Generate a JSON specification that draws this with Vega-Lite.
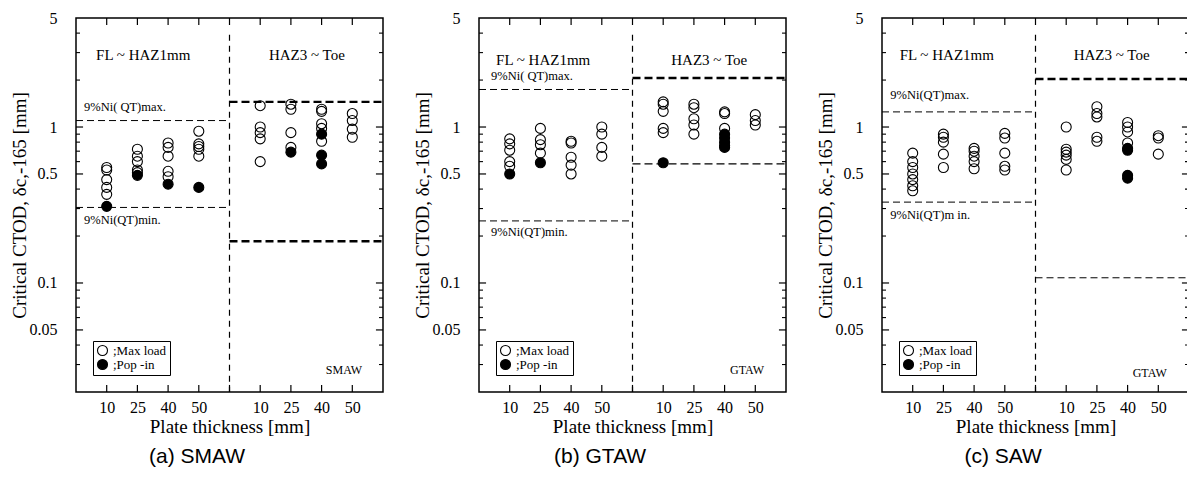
{
"$schema": "https://vega.github.io/schema/vega-lite/v6.json",
"padding": {"left": 9, "top": 9, "right": 0, "bottom": 0},
"spacing": 27,
"datasets": {
"ctod": [
{"process":"SMAW","zone":"FL~HAZ1mm","thickness":10,"mode":"Max load","ctod":0.55},
{"process":"SMAW","zone":"FL~HAZ1mm","thickness":10,"mode":"Max load","ctod":0.53},
{"process":"SMAW","zone":"FL~HAZ1mm","thickness":10,"mode":"Max load","ctod":0.46},
{"process":"SMAW","zone":"FL~HAZ1mm","thickness":10,"mode":"Max load","ctod":0.41},
{"process":"SMAW","zone":"FL~HAZ1mm","thickness":10,"mode":"Max load","ctod":0.37},
{"process":"SMAW","zone":"FL~HAZ1mm","thickness":10,"mode":"Pop-in","ctod":0.31},
{"process":"SMAW","zone":"FL~HAZ1mm","thickness":25,"mode":"Max load","ctod":0.72},
{"process":"SMAW","zone":"FL~HAZ1mm","thickness":25,"mode":"Max load","ctod":0.65},
{"process":"SMAW","zone":"FL~HAZ1mm","thickness":25,"mode":"Max load","ctod":0.6},
{"process":"SMAW","zone":"FL~HAZ1mm","thickness":25,"mode":"Max load","ctod":0.53},
{"process":"SMAW","zone":"FL~HAZ1mm","thickness":25,"mode":"Max load","ctod":0.51},
{"process":"SMAW","zone":"FL~HAZ1mm","thickness":25,"mode":"Pop-in","ctod":0.49},
{"process":"SMAW","zone":"FL~HAZ1mm","thickness":40,"mode":"Max load","ctod":0.79},
{"process":"SMAW","zone":"FL~HAZ1mm","thickness":40,"mode":"Max load","ctod":0.74},
{"process":"SMAW","zone":"FL~HAZ1mm","thickness":40,"mode":"Max load","ctod":0.65},
{"process":"SMAW","zone":"FL~HAZ1mm","thickness":40,"mode":"Max load","ctod":0.52},
{"process":"SMAW","zone":"FL~HAZ1mm","thickness":40,"mode":"Max load","ctod":0.48},
{"process":"SMAW","zone":"FL~HAZ1mm","thickness":40,"mode":"Pop-in","ctod":0.43},
{"process":"SMAW","zone":"FL~HAZ1mm","thickness":50,"mode":"Max load","ctod":0.94},
{"process":"SMAW","zone":"FL~HAZ1mm","thickness":50,"mode":"Max load","ctod":0.78},
{"process":"SMAW","zone":"FL~HAZ1mm","thickness":50,"mode":"Max load","ctod":0.75},
{"process":"SMAW","zone":"FL~HAZ1mm","thickness":50,"mode":"Max load","ctod":0.72},
{"process":"SMAW","zone":"FL~HAZ1mm","thickness":50,"mode":"Max load","ctod":0.65},
{"process":"SMAW","zone":"FL~HAZ1mm","thickness":50,"mode":"Pop-in","ctod":0.41},
{"process":"SMAW","zone":"HAZ3~Toe","thickness":10,"mode":"Max load","ctod":1.37},
{"process":"SMAW","zone":"HAZ3~Toe","thickness":10,"mode":"Max load","ctod":1.0},
{"process":"SMAW","zone":"HAZ3~Toe","thickness":10,"mode":"Max load","ctod":0.92},
{"process":"SMAW","zone":"HAZ3~Toe","thickness":10,"mode":"Max load","ctod":0.84},
{"process":"SMAW","zone":"HAZ3~Toe","thickness":10,"mode":"Max load","ctod":0.6},
{"process":"SMAW","zone":"HAZ3~Toe","thickness":25,"mode":"Max load","ctod":1.4},
{"process":"SMAW","zone":"HAZ3~Toe","thickness":25,"mode":"Max load","ctod":1.3},
{"process":"SMAW","zone":"HAZ3~Toe","thickness":25,"mode":"Max load","ctod":0.92},
{"process":"SMAW","zone":"HAZ3~Toe","thickness":25,"mode":"Max load","ctod":0.74},
{"process":"SMAW","zone":"HAZ3~Toe","thickness":25,"mode":"Pop-in","ctod":0.69},
{"process":"SMAW","zone":"HAZ3~Toe","thickness":40,"mode":"Max load","ctod":1.3},
{"process":"SMAW","zone":"HAZ3~Toe","thickness":40,"mode":"Max load","ctod":1.26},
{"process":"SMAW","zone":"HAZ3~Toe","thickness":40,"mode":"Max load","ctod":1.05},
{"process":"SMAW","zone":"HAZ3~Toe","thickness":40,"mode":"Max load","ctod":0.98},
{"process":"SMAW","zone":"HAZ3~Toe","thickness":40,"mode":"Max load","ctod":0.81},
{"process":"SMAW","zone":"HAZ3~Toe","thickness":40,"mode":"Pop-in","ctod":0.9},
{"process":"SMAW","zone":"HAZ3~Toe","thickness":40,"mode":"Pop-in","ctod":0.66},
{"process":"SMAW","zone":"HAZ3~Toe","thickness":40,"mode":"Pop-in","ctod":0.58},
{"process":"SMAW","zone":"HAZ3~Toe","thickness":50,"mode":"Max load","ctod":1.22},
{"process":"SMAW","zone":"HAZ3~Toe","thickness":50,"mode":"Max load","ctod":1.1},
{"process":"SMAW","zone":"HAZ3~Toe","thickness":50,"mode":"Max load","ctod":0.97},
{"process":"SMAW","zone":"HAZ3~Toe","thickness":50,"mode":"Max load","ctod":0.86},
{"process":"GTAW","zone":"FL~HAZ1mm","thickness":10,"mode":"Max load","ctod":0.84},
{"process":"GTAW","zone":"FL~HAZ1mm","thickness":10,"mode":"Max load","ctod":0.78},
{"process":"GTAW","zone":"FL~HAZ1mm","thickness":10,"mode":"Max load","ctod":0.71},
{"process":"GTAW","zone":"FL~HAZ1mm","thickness":10,"mode":"Max load","ctod":0.6},
{"process":"GTAW","zone":"FL~HAZ1mm","thickness":10,"mode":"Max load","ctod":0.56},
{"process":"GTAW","zone":"FL~HAZ1mm","thickness":10,"mode":"Pop-in","ctod":0.5},
{"process":"GTAW","zone":"FL~HAZ1mm","thickness":25,"mode":"Max load","ctod":0.98},
{"process":"GTAW","zone":"FL~HAZ1mm","thickness":25,"mode":"Max load","ctod":0.83},
{"process":"GTAW","zone":"FL~HAZ1mm","thickness":25,"mode":"Max load","ctod":0.77},
{"process":"GTAW","zone":"FL~HAZ1mm","thickness":25,"mode":"Max load","ctod":0.68},
{"process":"GTAW","zone":"FL~HAZ1mm","thickness":25,"mode":"Pop-in","ctod":0.59},
{"process":"GTAW","zone":"FL~HAZ1mm","thickness":40,"mode":"Max load","ctod":0.81},
{"process":"GTAW","zone":"FL~HAZ1mm","thickness":40,"mode":"Max load","ctod":0.79},
{"process":"GTAW","zone":"FL~HAZ1mm","thickness":40,"mode":"Max load","ctod":0.64},
{"process":"GTAW","zone":"FL~HAZ1mm","thickness":40,"mode":"Max load","ctod":0.57},
{"process":"GTAW","zone":"FL~HAZ1mm","thickness":40,"mode":"Max load","ctod":0.5},
{"process":"GTAW","zone":"FL~HAZ1mm","thickness":50,"mode":"Max load","ctod":1.0},
{"process":"GTAW","zone":"FL~HAZ1mm","thickness":50,"mode":"Max load","ctod":0.9},
{"process":"GTAW","zone":"FL~HAZ1mm","thickness":50,"mode":"Max load","ctod":0.74},
{"process":"GTAW","zone":"FL~HAZ1mm","thickness":50,"mode":"Max load","ctod":0.65},
{"process":"GTAW","zone":"HAZ3~Toe","thickness":10,"mode":"Max load","ctod":1.45},
{"process":"GTAW","zone":"HAZ3~Toe","thickness":10,"mode":"Max load","ctod":1.4},
{"process":"GTAW","zone":"HAZ3~Toe","thickness":10,"mode":"Max load","ctod":1.26},
{"process":"GTAW","zone":"HAZ3~Toe","thickness":10,"mode":"Max load","ctod":0.98},
{"process":"GTAW","zone":"HAZ3~Toe","thickness":10,"mode":"Max load","ctod":0.92},
{"process":"GTAW","zone":"HAZ3~Toe","thickness":10,"mode":"Pop-in","ctod":0.59},
{"process":"GTAW","zone":"HAZ3~Toe","thickness":25,"mode":"Max load","ctod":1.4},
{"process":"GTAW","zone":"HAZ3~Toe","thickness":25,"mode":"Max load","ctod":1.33},
{"process":"GTAW","zone":"HAZ3~Toe","thickness":25,"mode":"Max load","ctod":1.13},
{"process":"GTAW","zone":"HAZ3~Toe","thickness":25,"mode":"Max load","ctod":1.03},
{"process":"GTAW","zone":"HAZ3~Toe","thickness":25,"mode":"Max load","ctod":0.9},
{"process":"GTAW","zone":"HAZ3~Toe","thickness":40,"mode":"Max load","ctod":1.25},
{"process":"GTAW","zone":"HAZ3~Toe","thickness":40,"mode":"Max load","ctod":1.22},
{"process":"GTAW","zone":"HAZ3~Toe","thickness":40,"mode":"Max load","ctod":0.98},
{"process":"GTAW","zone":"HAZ3~Toe","thickness":40,"mode":"Pop-in","ctod":0.9},
{"process":"GTAW","zone":"HAZ3~Toe","thickness":40,"mode":"Pop-in","ctod":0.85},
{"process":"GTAW","zone":"HAZ3~Toe","thickness":40,"mode":"Pop-in","ctod":0.8},
{"process":"GTAW","zone":"HAZ3~Toe","thickness":40,"mode":"Pop-in","ctod":0.76},
{"process":"GTAW","zone":"HAZ3~Toe","thickness":40,"mode":"Pop-in","ctod":0.74},
{"process":"GTAW","zone":"HAZ3~Toe","thickness":50,"mode":"Max load","ctod":1.2},
{"process":"GTAW","zone":"HAZ3~Toe","thickness":50,"mode":"Max load","ctod":1.1},
{"process":"GTAW","zone":"HAZ3~Toe","thickness":50,"mode":"Max load","ctod":1.03},
{"process":"SAW","zone":"FL~HAZ1mm","thickness":10,"mode":"Max load","ctod":0.68},
{"process":"SAW","zone":"FL~HAZ1mm","thickness":10,"mode":"Max load","ctod":0.6},
{"process":"SAW","zone":"FL~HAZ1mm","thickness":10,"mode":"Max load","ctod":0.55},
{"process":"SAW","zone":"FL~HAZ1mm","thickness":10,"mode":"Max load","ctod":0.5},
{"process":"SAW","zone":"FL~HAZ1mm","thickness":10,"mode":"Max load","ctod":0.46},
{"process":"SAW","zone":"FL~HAZ1mm","thickness":10,"mode":"Max load","ctod":0.42},
{"process":"SAW","zone":"FL~HAZ1mm","thickness":10,"mode":"Max load","ctod":0.39},
{"process":"SAW","zone":"FL~HAZ1mm","thickness":25,"mode":"Max load","ctod":0.9},
{"process":"SAW","zone":"FL~HAZ1mm","thickness":25,"mode":"Max load","ctod":0.86},
{"process":"SAW","zone":"FL~HAZ1mm","thickness":25,"mode":"Max load","ctod":0.8},
{"process":"SAW","zone":"FL~HAZ1mm","thickness":25,"mode":"Max load","ctod":0.67},
{"process":"SAW","zone":"FL~HAZ1mm","thickness":25,"mode":"Max load","ctod":0.55},
{"process":"SAW","zone":"FL~HAZ1mm","thickness":40,"mode":"Max load","ctod":0.73},
{"process":"SAW","zone":"FL~HAZ1mm","thickness":40,"mode":"Max load","ctod":0.7},
{"process":"SAW","zone":"FL~HAZ1mm","thickness":40,"mode":"Max load","ctod":0.65},
{"process":"SAW","zone":"FL~HAZ1mm","thickness":40,"mode":"Max load","ctod":0.6},
{"process":"SAW","zone":"FL~HAZ1mm","thickness":40,"mode":"Max load","ctod":0.54},
{"process":"SAW","zone":"FL~HAZ1mm","thickness":50,"mode":"Max load","ctod":0.91},
{"process":"SAW","zone":"FL~HAZ1mm","thickness":50,"mode":"Max load","ctod":0.85},
{"process":"SAW","zone":"FL~HAZ1mm","thickness":50,"mode":"Max load","ctod":0.68},
{"process":"SAW","zone":"FL~HAZ1mm","thickness":50,"mode":"Max load","ctod":0.56},
{"process":"SAW","zone":"FL~HAZ1mm","thickness":50,"mode":"Max load","ctod":0.53},
{"process":"SAW","zone":"HAZ3~Toe","thickness":10,"mode":"Max load","ctod":1.0},
{"process":"SAW","zone":"HAZ3~Toe","thickness":10,"mode":"Max load","ctod":0.72},
{"process":"SAW","zone":"HAZ3~Toe","thickness":10,"mode":"Max load","ctod":0.69},
{"process":"SAW","zone":"HAZ3~Toe","thickness":10,"mode":"Max load","ctod":0.66},
{"process":"SAW","zone":"HAZ3~Toe","thickness":10,"mode":"Max load","ctod":0.62},
{"process":"SAW","zone":"HAZ3~Toe","thickness":10,"mode":"Max load","ctod":0.53},
{"process":"SAW","zone":"HAZ3~Toe","thickness":25,"mode":"Max load","ctod":1.35},
{"process":"SAW","zone":"HAZ3~Toe","thickness":25,"mode":"Max load","ctod":1.22},
{"process":"SAW","zone":"HAZ3~Toe","thickness":25,"mode":"Max load","ctod":1.16},
{"process":"SAW","zone":"HAZ3~Toe","thickness":25,"mode":"Max load","ctod":0.86},
{"process":"SAW","zone":"HAZ3~Toe","thickness":25,"mode":"Max load","ctod":0.81},
{"process":"SAW","zone":"HAZ3~Toe","thickness":40,"mode":"Max load","ctod":1.07},
{"process":"SAW","zone":"HAZ3~Toe","thickness":40,"mode":"Max load","ctod":1.0},
{"process":"SAW","zone":"HAZ3~Toe","thickness":40,"mode":"Max load","ctod":0.93},
{"process":"SAW","zone":"HAZ3~Toe","thickness":40,"mode":"Max load","ctod":0.79},
{"process":"SAW","zone":"HAZ3~Toe","thickness":40,"mode":"Pop-in","ctod":0.73},
{"process":"SAW","zone":"HAZ3~Toe","thickness":40,"mode":"Pop-in","ctod":0.71},
{"process":"SAW","zone":"HAZ3~Toe","thickness":40,"mode":"Pop-in","ctod":0.49},
{"process":"SAW","zone":"HAZ3~Toe","thickness":40,"mode":"Pop-in","ctod":0.47},
{"process":"SAW","zone":"HAZ3~Toe","thickness":50,"mode":"Max load","ctod":0.88},
{"process":"SAW","zone":"HAZ3~Toe","thickness":50,"mode":"Max load","ctod":0.85},
{"process":"SAW","zone":"HAZ3~Toe","thickness":50,"mode":"Max load","ctod":0.67}
],
"refs": [
{"process":"SMAW","zone":"FL~HAZ1mm","bound":"upper","ctod":1.1},
{"process":"SMAW","zone":"FL~HAZ1mm","bound":"lower","ctod":0.305},
{"process":"SMAW","zone":"HAZ3~Toe","bound":"upper","ctod":1.45},
{"process":"SMAW","zone":"HAZ3~Toe","bound":"lower","ctod":0.185},
{"process":"GTAW","zone":"FL~HAZ1mm","bound":"upper","ctod":1.74},
{"process":"GTAW","zone":"FL~HAZ1mm","bound":"lower","ctod":0.25},
{"process":"GTAW","zone":"HAZ3~Toe","bound":"upper","ctod":2.06},
{"process":"GTAW","zone":"HAZ3~Toe","bound":"lower","ctod":0.58},
{"process":"SAW","zone":"FL~HAZ1mm","bound":"upper","ctod":1.25},
{"process":"SAW","zone":"FL~HAZ1mm","bound":"lower","ctod":0.33},
{"process":"SAW","zone":"HAZ3~Toe","bound":"upper","ctod":2.03},
{"process":"SAW","zone":"HAZ3~Toe","bound":"lower","ctod":0.108}
],
"yticks": [
{"value":0.05,"kind":"major"},{"value":0.1,"kind":"major"},{"value":0.5,"kind":"major"},{"value":1,"kind":"major"},
{"value":0.03,"kind":"minor"},{"value":0.04,"kind":"minor"},{"value":0.06,"kind":"minor"},{"value":0.07,"kind":"minor"},{"value":0.08,"kind":"minor"},{"value":0.09,"kind":"minor"},
{"value":0.2,"kind":"minor"},{"value":0.3,"kind":"minor"},{"value":0.4,"kind":"minor"},{"value":0.6,"kind":"minor"},{"value":0.7,"kind":"minor"},{"value":0.8,"kind":"minor"},{"value":0.9,"kind":"minor"},
{"value":2,"kind":"minor"},{"value":3,"kind":"minor"},{"value":4,"kind":"minor"}
],
"xticks": [{"slot":1},{"slot":2},{"slot":3},{"slot":4},{"slot":5},{"slot":6},{"slot":7},{"slot":8},{"slot":9}]
},
"resolve": {"scale": {"fill": "independent"}, "legend": {"fill": "independent"}},
"hconcat": [
{
"width": 307, "height": 374,
"title": {"text": "(a) SMAW", "orient": "bottom", "font": "Liberation Sans", "fontSize": 21, "fontWeight": "normal", "color": "black", "frame": "bounds", "anchor": "middle", "offset": 10},
"resolve": {"scale": {"x": "independent"}, "axis": {"x": "independent", "y": "independent"}},
"layer": [
{"data": {"name": "ctod"}, "transform": [{"filter": "datum.process == 'SMAW'"}],
 "mark": {"type": "point", "shape": "circle", "filled": true, "size": 100, "stroke": "black", "strokeWidth": 1.1, "opacity": 1},
 "encoding": {
  "x": {"field": "zone", "type": "nominal", "scale": {"type": "band", "domain": ["FL~HAZ1mm", "HAZ3~Toe"], "paddingInner": 0, "paddingOuter": 0}, "axis": null},
  "xOffset": {"field": "thickness", "type": "ordinal", "scale": {"type": "point", "domain": [10, 25, 40, 50], "padding": 1}},
  "y": {"field": "ctod", "type": "quantitative", "scale": {"type": "log", "domain": [0.02, 5], "nice": false},
        "axis": {"orient": "left", "values": [0.05, 0.1, 0.5, 1, 5], "labelExpr": "format(datum.value, '~g')", "ticks": false, "domain": false, "labelPadding": 19, "labelOverlap": false, "labelFlush": false, "title": "Critical CTOD, δc,-165 [mm]", "titlePadding": 0}},
  "fill": {"field": "mode", "type": "nominal", "scale": {"domain": ["Max load", "Pop-in"], "range": ["transparent", "black"]},
           "legend": {"title": null, "labelExpr": "datum.label == 'Max load' ? ';Max load' : ';Pop -in'"}}
 }},
{"data": {"name": "refs"}, "transform": [{"filter": "datum.process == 'SMAW' && datum.zone == 'FL~HAZ1mm'"}],
 "mark": {"type": "rule", "strokeDash": [7, 4], "strokeWidth": 1, "color": "black"},
 "encoding": {
  "x": {"datum": 0, "type": "quantitative", "scale": {"domain": [0, 10], "nice": false, "zero": false},
        "axis": {"orient": "bottom", "values": [1, 2, 3, 4, 6, 7, 8, 9], "labelExpr": "['','10','25','40','50','','10','25','40','50'][datum.value]", "ticks": false, "domain": false, "labelPadding": 7, "labelFlush": false, "labelOverlap": false, "title": "Plate thickness [mm]", "titlePadding": 2}},
  "x2": {"datum": 5},
  "y": {"field": "ctod", "type": "quantitative", "scale": {"type": "log", "domain": [0.02, 5], "nice": false}, "axis": null}
 }},
{"data": {"name": "refs"}, "transform": [{"filter": "datum.process == 'SMAW' && datum.zone == 'HAZ3~Toe'"}],
 "mark": {"type": "rule", "strokeDash": [8, 4], "strokeWidth": 2.4, "color": "black"},
 "encoding": {
  "x": {"datum": 5, "type": "quantitative", "scale": {"domain": [0, 10], "nice": false, "zero": false}, "axis": null},
  "x2": {"datum": 10},
  "y": {"field": "ctod", "type": "quantitative", "scale": {"type": "log", "domain": [0.02, 5], "nice": false}, "axis": null}
 }},
{"data": {"values": [{}]},
 "mark": {"type": "rule", "strokeDash": [6, 5], "strokeWidth": 1.2, "color": "black"},
 "encoding": {
  "x": {"datum": 5, "type": "quantitative", "scale": {"domain": [0, 10], "nice": false, "zero": false}, "axis": null},
  "y": {"datum": 3.9, "type": "quantitative", "scale": {"type": "log", "domain": [0.02, 5], "nice": false}, "axis": null},
  "y2": {"datum": 0.02}
 }},
{"data": {"name": "yticks"}, "transform": [{"filter": "datum.kind == 'major'"}],
 "mark": {"type": "rule", "strokeWidth": 1.2, "color": "black"},
 "encoding": {"x": {"datum": 0, "type": "quantitative", "scale": {"domain": [0, 10], "nice": false, "zero": false}, "axis": null}, "x2": {"datum": 0.23},
              "y": {"field": "value", "type": "quantitative", "scale": {"type": "log", "domain": [0.02, 5], "nice": false}, "axis": null}}},
{"data": {"name": "yticks"}, "transform": [{"filter": "datum.kind == 'major'"}],
 "mark": {"type": "rule", "strokeWidth": 1.2, "color": "black"},
 "encoding": {"x": {"datum": 9.77, "type": "quantitative", "scale": {"domain": [0, 10], "nice": false, "zero": false}, "axis": null}, "x2": {"datum": 10},
              "y": {"field": "value", "type": "quantitative", "scale": {"type": "log", "domain": [0.02, 5], "nice": false}, "axis": null}}},
{"data": {"name": "yticks"}, "transform": [{"filter": "datum.kind == 'minor'"}],
 "mark": {"type": "rule", "strokeWidth": 1.1, "color": "black"},
 "encoding": {"x": {"datum": 0, "type": "quantitative", "scale": {"domain": [0, 10], "nice": false, "zero": false}, "axis": null}, "x2": {"datum": 0.13},
              "y": {"field": "value", "type": "quantitative", "scale": {"type": "log", "domain": [0.02, 5], "nice": false}, "axis": null}}},
{"data": {"name": "yticks"}, "transform": [{"filter": "datum.kind == 'minor'"}],
 "mark": {"type": "rule", "strokeWidth": 1.1, "color": "black"},
 "encoding": {"x": {"datum": 9.87, "type": "quantitative", "scale": {"domain": [0, 10], "nice": false, "zero": false}, "axis": null}, "x2": {"datum": 10},
              "y": {"field": "value", "type": "quantitative", "scale": {"type": "log", "domain": [0.02, 5], "nice": false}, "axis": null}}},
{"data": {"name": "xticks"},
 "mark": {"type": "rule", "strokeWidth": 1.2, "color": "black"},
 "encoding": {"x": {"field": "slot", "type": "quantitative", "scale": {"domain": [0, 10], "nice": false, "zero": false}, "axis": null},
              "y": {"datum": 0.02, "type": "quantitative", "scale": {"type": "log", "domain": [0.02, 5], "nice": false}, "axis": null}, "y2": {"datum": 0.0222}}},
{"data": {"name": "xticks"},
 "mark": {"type": "rule", "strokeWidth": 1.2, "color": "black"},
 "encoding": {"x": {"field": "slot", "type": "quantitative", "scale": {"domain": [0, 10], "nice": false, "zero": false}, "axis": null},
              "y": {"datum": 4.51, "type": "quantitative", "scale": {"type": "log", "domain": [0.02, 5], "nice": false}, "axis": null}, "y2": {"datum": 5}}},
{"data": {"values": [{}]}, "mark": {"type": "text", "text": "FL ~ HAZ1mm", "font": "Liberation Serif", "fontSize": 15, "align": "center", "baseline": "middle", "color": "black"},
 "encoding": {"x": {"datum": 2.19, "type": "quantitative", "scale": {"domain": [0, 10], "nice": false, "zero": false}, "axis": null},
              "y": {"datum": 2.9, "type": "quantitative", "scale": {"type": "log", "domain": [0.02, 5], "nice": false}, "axis": null}}},
{"data": {"values": [{}]}, "mark": {"type": "text", "text": "HAZ3 ~ Toe", "font": "Liberation Serif", "fontSize": 15, "align": "center", "baseline": "middle", "color": "black"},
 "encoding": {"x": {"datum": 7.52, "type": "quantitative", "scale": {"domain": [0, 10], "nice": false, "zero": false}, "axis": null},
              "y": {"datum": 2.9, "type": "quantitative", "scale": {"type": "log", "domain": [0.02, 5], "nice": false}, "axis": null}}},
{"data": {"values": [{}]}, "mark": {"type": "text", "text": "9%Ni( QT)max.", "font": "Liberation Serif", "fontSize": 12.5, "align": "left", "baseline": "middle", "color": "black"},
 "encoding": {"x": {"datum": 0.26, "type": "quantitative", "scale": {"domain": [0, 10], "nice": false, "zero": false}, "axis": null},
              "y": {"datum": 1.35, "type": "quantitative", "scale": {"type": "log", "domain": [0.02, 5], "nice": false}, "axis": null}}},
{"data": {"values": [{}]}, "mark": {"type": "text", "text": "9%Ni(QT)min.", "font": "Liberation Serif", "fontSize": 12.5, "align": "left", "baseline": "middle", "color": "black"},
 "encoding": {"x": {"datum": 0.26, "type": "quantitative", "scale": {"domain": [0, 10], "nice": false, "zero": false}, "axis": null},
              "y": {"datum": 0.254, "type": "quantitative", "scale": {"type": "log", "domain": [0.02, 5], "nice": false}, "axis": null}}},
{"data": {"values": [{}]}, "mark": {"type": "text", "text": "SMAW", "font": "Liberation Serif", "fontSize": 12, "align": "center", "baseline": "middle", "color": "black"},
 "encoding": {"x": {"datum": 8.73, "type": "quantitative", "scale": {"domain": [0, 10], "nice": false, "zero": false}, "axis": null},
              "y": {"datum": 0.0276, "type": "quantitative", "scale": {"type": "log", "domain": [0.02, 5], "nice": false}, "axis": null}}}
]
},
{
"width": 307, "height": 374,
"title": {"text": "(b) GTAW", "orient": "bottom", "font": "Liberation Sans", "fontSize": 21, "fontWeight": "normal", "color": "black", "frame": "bounds", "anchor": "middle", "offset": 10},
"resolve": {"scale": {"x": "independent"}, "axis": {"x": "independent", "y": "independent"}},
"layer": [
{"data": {"name": "ctod"}, "transform": [{"filter": "datum.process == 'GTAW'"}],
 "mark": {"type": "point", "shape": "circle", "filled": true, "size": 100, "stroke": "black", "strokeWidth": 1.1, "opacity": 1},
 "encoding": {
  "x": {"field": "zone", "type": "nominal", "scale": {"type": "band", "domain": ["FL~HAZ1mm", "HAZ3~Toe"], "paddingInner": 0, "paddingOuter": 0}, "axis": null},
  "xOffset": {"field": "thickness", "type": "ordinal", "scale": {"type": "point", "domain": [10, 25, 40, 50], "padding": 1}},
  "y": {"field": "ctod", "type": "quantitative", "scale": {"type": "log", "domain": [0.02, 5], "nice": false},
        "axis": {"orient": "left", "values": [0.05, 0.1, 0.5, 1, 5], "labelExpr": "format(datum.value, '~g')", "ticks": false, "domain": false, "labelPadding": 19, "labelOverlap": false, "labelFlush": false, "title": "Critical CTOD, δc,-165 [mm]", "titlePadding": 0}},
  "fill": {"field": "mode", "type": "nominal", "scale": {"domain": ["Max load", "Pop-in"], "range": ["transparent", "black"]},
           "legend": {"title": null, "labelExpr": "datum.label == 'Max load' ? ';Max load' : ';Pop -in'"}}
 }},
{"data": {"name": "refs"}, "transform": [{"filter": "datum.process == 'GTAW' && datum.zone == 'FL~HAZ1mm'"}],
 "mark": {"type": "rule", "strokeDash": [7, 4], "strokeWidth": 1, "color": "black"},
 "encoding": {
  "x": {"datum": 0, "type": "quantitative", "scale": {"domain": [0, 10], "nice": false, "zero": false},
        "axis": {"orient": "bottom", "values": [1, 2, 3, 4, 6, 7, 8, 9], "labelExpr": "['','10','25','40','50','','10','25','40','50'][datum.value]", "ticks": false, "domain": false, "labelPadding": 7, "labelFlush": false, "labelOverlap": false, "title": "Plate thickness [mm]", "titlePadding": 2}},
  "x2": {"datum": 5},
  "y": {"field": "ctod", "type": "quantitative", "scale": {"type": "log", "domain": [0.02, 5], "nice": false}, "axis": null}
 }},
{"data": {"name": "refs"}, "transform": [{"filter": "datum.process == 'GTAW' && datum.zone == 'HAZ3~Toe' && datum.bound == 'upper'"}],
 "mark": {"type": "rule", "strokeDash": [8, 4], "strokeWidth": 2.4, "color": "black"},
 "encoding": {
  "x": {"datum": 5, "type": "quantitative", "scale": {"domain": [0, 10], "nice": false, "zero": false}, "axis": null},
  "x2": {"datum": 10},
  "y": {"field": "ctod", "type": "quantitative", "scale": {"type": "log", "domain": [0.02, 5], "nice": false}, "axis": null}
 }},
{"data": {"name": "refs"}, "transform": [{"filter": "datum.process == 'GTAW' && datum.zone == 'HAZ3~Toe' && datum.bound == 'lower'"}],
 "mark": {"type": "rule", "strokeDash": [8, 4], "strokeWidth": 1.2, "color": "black"},
 "encoding": {
  "x": {"datum": 5, "type": "quantitative", "scale": {"domain": [0, 10], "nice": false, "zero": false}, "axis": null},
  "x2": {"datum": 10},
  "y": {"field": "ctod", "type": "quantitative", "scale": {"type": "log", "domain": [0.02, 5], "nice": false}, "axis": null}
 }},
{"data": {"values": [{}]},
 "mark": {"type": "rule", "strokeDash": [6, 5], "strokeWidth": 1.2, "color": "black"},
 "encoding": {
  "x": {"datum": 5, "type": "quantitative", "scale": {"domain": [0, 10], "nice": false, "zero": false}, "axis": null},
  "y": {"datum": 3.9, "type": "quantitative", "scale": {"type": "log", "domain": [0.02, 5], "nice": false}, "axis": null},
  "y2": {"datum": 0.02}
 }},
{"data": {"name": "yticks"}, "transform": [{"filter": "datum.kind == 'major'"}],
 "mark": {"type": "rule", "strokeWidth": 1.2, "color": "black"},
 "encoding": {"x": {"datum": 0, "type": "quantitative", "scale": {"domain": [0, 10], "nice": false, "zero": false}, "axis": null}, "x2": {"datum": 0.23},
              "y": {"field": "value", "type": "quantitative", "scale": {"type": "log", "domain": [0.02, 5], "nice": false}, "axis": null}}},
{"data": {"name": "yticks"}, "transform": [{"filter": "datum.kind == 'major'"}],
 "mark": {"type": "rule", "strokeWidth": 1.2, "color": "black"},
 "encoding": {"x": {"datum": 9.77, "type": "quantitative", "scale": {"domain": [0, 10], "nice": false, "zero": false}, "axis": null}, "x2": {"datum": 10},
              "y": {"field": "value", "type": "quantitative", "scale": {"type": "log", "domain": [0.02, 5], "nice": false}, "axis": null}}},
{"data": {"name": "yticks"}, "transform": [{"filter": "datum.kind == 'minor'"}],
 "mark": {"type": "rule", "strokeWidth": 1.1, "color": "black"},
 "encoding": {"x": {"datum": 0, "type": "quantitative", "scale": {"domain": [0, 10], "nice": false, "zero": false}, "axis": null}, "x2": {"datum": 0.13},
              "y": {"field": "value", "type": "quantitative", "scale": {"type": "log", "domain": [0.02, 5], "nice": false}, "axis": null}}},
{"data": {"name": "yticks"}, "transform": [{"filter": "datum.kind == 'minor'"}],
 "mark": {"type": "rule", "strokeWidth": 1.1, "color": "black"},
 "encoding": {"x": {"datum": 9.87, "type": "quantitative", "scale": {"domain": [0, 10], "nice": false, "zero": false}, "axis": null}, "x2": {"datum": 10},
              "y": {"field": "value", "type": "quantitative", "scale": {"type": "log", "domain": [0.02, 5], "nice": false}, "axis": null}}},
{"data": {"name": "xticks"},
 "mark": {"type": "rule", "strokeWidth": 1.2, "color": "black"},
 "encoding": {"x": {"field": "slot", "type": "quantitative", "scale": {"domain": [0, 10], "nice": false, "zero": false}, "axis": null},
              "y": {"datum": 0.02, "type": "quantitative", "scale": {"type": "log", "domain": [0.02, 5], "nice": false}, "axis": null}, "y2": {"datum": 0.0222}}},
{"data": {"name": "xticks"},
 "mark": {"type": "rule", "strokeWidth": 1.2, "color": "black"},
 "encoding": {"x": {"field": "slot", "type": "quantitative", "scale": {"domain": [0, 10], "nice": false, "zero": false}, "axis": null},
              "y": {"datum": 4.51, "type": "quantitative", "scale": {"type": "log", "domain": [0.02, 5], "nice": false}, "axis": null}, "y2": {"datum": 5}}},
{"data": {"values": [{}]}, "mark": {"type": "text", "text": "FL ~ HAZ1mm", "font": "Liberation Serif", "fontSize": 15, "align": "center", "baseline": "middle", "color": "black"},
 "encoding": {"x": {"datum": 2.09, "type": "quantitative", "scale": {"domain": [0, 10], "nice": false, "zero": false}, "axis": null},
              "y": {"datum": 2.7, "type": "quantitative", "scale": {"type": "log", "domain": [0.02, 5], "nice": false}, "axis": null}}},
{"data": {"values": [{}]}, "mark": {"type": "text", "text": "HAZ3 ~ Toe", "font": "Liberation Serif", "fontSize": 15, "align": "center", "baseline": "middle", "color": "black"},
 "encoding": {"x": {"datum": 7.5, "type": "quantitative", "scale": {"domain": [0, 10], "nice": false, "zero": false}, "axis": null},
              "y": {"datum": 2.7, "type": "quantitative", "scale": {"type": "log", "domain": [0.02, 5], "nice": false}, "axis": null}}},
{"data": {"values": [{}]}, "mark": {"type": "text", "text": "9%Ni( QT)max.", "font": "Liberation Serif", "fontSize": 12.5, "align": "left", "baseline": "middle", "color": "black"},
 "encoding": {"x": {"datum": 0.39, "type": "quantitative", "scale": {"domain": [0, 10], "nice": false, "zero": false}, "axis": null},
              "y": {"datum": 2.12, "type": "quantitative", "scale": {"type": "log", "domain": [0.02, 5], "nice": false}, "axis": null}}},
{"data": {"values": [{}]}, "mark": {"type": "text", "text": "9%Ni(QT)min.", "font": "Liberation Serif", "fontSize": 12.5, "align": "left", "baseline": "middle", "color": "black"},
 "encoding": {"x": {"datum": 0.39, "type": "quantitative", "scale": {"domain": [0, 10], "nice": false, "zero": false}, "axis": null},
              "y": {"datum": 0.212, "type": "quantitative", "scale": {"type": "log", "domain": [0.02, 5], "nice": false}, "axis": null}}},
{"data": {"values": [{}]}, "mark": {"type": "text", "text": "GTAW", "font": "Liberation Serif", "fontSize": 12, "align": "center", "baseline": "middle", "color": "black"},
 "encoding": {"x": {"datum": 8.73, "type": "quantitative", "scale": {"domain": [0, 10], "nice": false, "zero": false}, "axis": null},
              "y": {"datum": 0.0276, "type": "quantitative", "scale": {"type": "log", "domain": [0.02, 5], "nice": false}, "axis": null}}}
]
},
{
"width": 307, "height": 374,
"title": {"text": "(c) SAW", "orient": "bottom", "font": "Liberation Sans", "fontSize": 21, "fontWeight": "normal", "color": "black", "frame": "bounds", "anchor": "middle", "offset": 10},
"resolve": {"scale": {"x": "independent"}, "axis": {"x": "independent", "y": "independent"}},
"layer": [
{"data": {"name": "ctod"}, "transform": [{"filter": "datum.process == 'SAW'"}],
 "mark": {"type": "point", "shape": "circle", "filled": true, "size": 100, "stroke": "black", "strokeWidth": 1.1, "opacity": 1},
 "encoding": {
  "x": {"field": "zone", "type": "nominal", "scale": {"type": "band", "domain": ["FL~HAZ1mm", "HAZ3~Toe"], "paddingInner": 0, "paddingOuter": 0}, "axis": null},
  "xOffset": {"field": "thickness", "type": "ordinal", "scale": {"type": "point", "domain": [10, 25, 40, 50], "padding": 1}},
  "y": {"field": "ctod", "type": "quantitative", "scale": {"type": "log", "domain": [0.02, 5], "nice": false},
        "axis": {"orient": "left", "values": [0.05, 0.1, 0.5, 1, 5], "labelExpr": "format(datum.value, '~g')", "ticks": false, "domain": false, "labelPadding": 19, "labelOverlap": false, "labelFlush": false, "title": "Critical CTOD, δc,-165 [mm]", "titlePadding": 0}},
  "fill": {"field": "mode", "type": "nominal", "scale": {"domain": ["Max load", "Pop-in"], "range": ["transparent", "black"]},
           "legend": {"title": null, "labelExpr": "datum.label == 'Max load' ? ';Max load' : ';Pop -in'"}}
 }},
{"data": {"name": "refs"}, "transform": [{"filter": "datum.process == 'SAW' && datum.zone == 'FL~HAZ1mm'"}],
 "mark": {"type": "rule", "strokeDash": [7, 4], "strokeWidth": 1, "color": "black"},
 "encoding": {
  "x": {"datum": 0, "type": "quantitative", "scale": {"domain": [0, 10], "nice": false, "zero": false},
        "axis": {"orient": "bottom", "values": [1, 2, 3, 4, 6, 7, 8, 9], "labelExpr": "['','10','25','40','50','','10','25','40','50'][datum.value]", "ticks": false, "domain": false, "labelPadding": 7, "labelFlush": false, "labelOverlap": false, "title": "Plate thickness [mm]", "titlePadding": 2}},
  "x2": {"datum": 5},
  "y": {"field": "ctod", "type": "quantitative", "scale": {"type": "log", "domain": [0.02, 5], "nice": false}, "axis": null}
 }},
{"data": {"name": "refs"}, "transform": [{"filter": "datum.process == 'SAW' && datum.zone == 'HAZ3~Toe' && datum.bound == 'upper'"}],
 "mark": {"type": "rule", "strokeDash": [8, 4], "strokeWidth": 2.4, "color": "black"},
 "encoding": {
  "x": {"datum": 5, "type": "quantitative", "scale": {"domain": [0, 10], "nice": false, "zero": false}, "axis": null},
  "x2": {"datum": 10},
  "y": {"field": "ctod", "type": "quantitative", "scale": {"type": "log", "domain": [0.02, 5], "nice": false}, "axis": null}
 }},
{"data": {"name": "refs"}, "transform": [{"filter": "datum.process == 'SAW' && datum.zone == 'HAZ3~Toe' && datum.bound == 'lower'"}],
 "mark": {"type": "rule", "strokeDash": [7, 4], "strokeWidth": 1, "color": "black"},
 "encoding": {
  "x": {"datum": 5, "type": "quantitative", "scale": {"domain": [0, 10], "nice": false, "zero": false}, "axis": null},
  "x2": {"datum": 10},
  "y": {"field": "ctod", "type": "quantitative", "scale": {"type": "log", "domain": [0.02, 5], "nice": false}, "axis": null}
 }},
{"data": {"values": [{}]},
 "mark": {"type": "rule", "strokeDash": [6, 5], "strokeWidth": 1.2, "color": "black"},
 "encoding": {
  "x": {"datum": 5, "type": "quantitative", "scale": {"domain": [0, 10], "nice": false, "zero": false}, "axis": null},
  "y": {"datum": 3.9, "type": "quantitative", "scale": {"type": "log", "domain": [0.02, 5], "nice": false}, "axis": null},
  "y2": {"datum": 0.02}
 }},
{"data": {"name": "yticks"}, "transform": [{"filter": "datum.kind == 'major'"}],
 "mark": {"type": "rule", "strokeWidth": 1.2, "color": "black"},
 "encoding": {"x": {"datum": 0, "type": "quantitative", "scale": {"domain": [0, 10], "nice": false, "zero": false}, "axis": null}, "x2": {"datum": 0.23},
              "y": {"field": "value", "type": "quantitative", "scale": {"type": "log", "domain": [0.02, 5], "nice": false}, "axis": null}}},
{"data": {"name": "yticks"}, "transform": [{"filter": "datum.kind == 'major'"}],
 "mark": {"type": "rule", "strokeWidth": 1.2, "color": "black"},
 "encoding": {"x": {"datum": 9.77, "type": "quantitative", "scale": {"domain": [0, 10], "nice": false, "zero": false}, "axis": null}, "x2": {"datum": 10},
              "y": {"field": "value", "type": "quantitative", "scale": {"type": "log", "domain": [0.02, 5], "nice": false}, "axis": null}}},
{"data": {"name": "yticks"}, "transform": [{"filter": "datum.kind == 'minor'"}],
 "mark": {"type": "rule", "strokeWidth": 1.1, "color": "black"},
 "encoding": {"x": {"datum": 0, "type": "quantitative", "scale": {"domain": [0, 10], "nice": false, "zero": false}, "axis": null}, "x2": {"datum": 0.13},
              "y": {"field": "value", "type": "quantitative", "scale": {"type": "log", "domain": [0.02, 5], "nice": false}, "axis": null}}},
{"data": {"name": "yticks"}, "transform": [{"filter": "datum.kind == 'minor'"}],
 "mark": {"type": "rule", "strokeWidth": 1.1, "color": "black"},
 "encoding": {"x": {"datum": 9.87, "type": "quantitative", "scale": {"domain": [0, 10], "nice": false, "zero": false}, "axis": null}, "x2": {"datum": 10},
              "y": {"field": "value", "type": "quantitative", "scale": {"type": "log", "domain": [0.02, 5], "nice": false}, "axis": null}}},
{"data": {"name": "xticks"},
 "mark": {"type": "rule", "strokeWidth": 1.2, "color": "black"},
 "encoding": {"x": {"field": "slot", "type": "quantitative", "scale": {"domain": [0, 10], "nice": false, "zero": false}, "axis": null},
              "y": {"datum": 0.02, "type": "quantitative", "scale": {"type": "log", "domain": [0.02, 5], "nice": false}, "axis": null}, "y2": {"datum": 0.0222}}},
{"data": {"name": "xticks"},
 "mark": {"type": "rule", "strokeWidth": 1.2, "color": "black"},
 "encoding": {"x": {"field": "slot", "type": "quantitative", "scale": {"domain": [0, 10], "nice": false, "zero": false}, "axis": null},
              "y": {"datum": 4.51, "type": "quantitative", "scale": {"type": "log", "domain": [0.02, 5], "nice": false}, "axis": null}, "y2": {"datum": 5}}},
{"data": {"values": [{}]}, "mark": {"type": "text", "text": "FL ~ HAZ1mm", "font": "Liberation Serif", "fontSize": 15, "align": "center", "baseline": "middle", "color": "black"},
 "encoding": {"x": {"datum": 2.11, "type": "quantitative", "scale": {"domain": [0, 10], "nice": false, "zero": false}, "axis": null},
              "y": {"datum": 2.9, "type": "quantitative", "scale": {"type": "log", "domain": [0.02, 5], "nice": false}, "axis": null}}},
{"data": {"values": [{}]}, "mark": {"type": "text", "text": "HAZ3 ~ Toe", "font": "Liberation Serif", "fontSize": 15, "align": "center", "baseline": "middle", "color": "black"},
 "encoding": {"x": {"datum": 7.48, "type": "quantitative", "scale": {"domain": [0, 10], "nice": false, "zero": false}, "axis": null},
              "y": {"datum": 2.9, "type": "quantitative", "scale": {"type": "log", "domain": [0.02, 5], "nice": false}, "axis": null}}},
{"data": {"values": [{}]}, "mark": {"type": "text", "text": "9%Ni(QT)max.", "font": "Liberation Serif", "fontSize": 12.5, "align": "left", "baseline": "middle", "color": "black"},
 "encoding": {"x": {"datum": 0.27, "type": "quantitative", "scale": {"domain": [0, 10], "nice": false, "zero": false}, "axis": null},
              "y": {"datum": 1.6, "type": "quantitative", "scale": {"type": "log", "domain": [0.02, 5], "nice": false}, "axis": null}}},
{"data": {"values": [{}]}, "mark": {"type": "text", "text": "9%Ni(QT)m in.", "font": "Liberation Serif", "fontSize": 12.5, "align": "left", "baseline": "middle", "color": "black"},
 "encoding": {"x": {"datum": 0.27, "type": "quantitative", "scale": {"domain": [0, 10], "nice": false, "zero": false}, "axis": null},
              "y": {"datum": 0.272, "type": "quantitative", "scale": {"type": "log", "domain": [0.02, 5], "nice": false}, "axis": null}}},
{"data": {"values": [{}]}, "mark": {"type": "text", "text": "GTAW", "font": "Liberation Serif", "fontSize": 12, "align": "center", "baseline": "middle", "color": "black"},
 "encoding": {"x": {"datum": 8.72, "type": "quantitative", "scale": {"domain": [0, 10], "nice": false, "zero": false}, "axis": null},
              "y": {"datum": 0.0263, "type": "quantitative", "scale": {"type": "log", "domain": [0.02, 5], "nice": false}, "axis": null}}}
]
}
],
"config": {
 "view": {"stroke": "black", "strokeWidth": 1.5},
 "axis": {"grid": false, "labelFont": "Liberation Serif", "labelFontSize": 16, "labelColor": "black", "titleFont": "Liberation Serif", "titleFontSize": 19, "titleFontWeight": "normal", "titleColor": "black"},
 "legend": {"orient": "bottom-left", "offset": 17, "strokeColor": "black", "strokeWidth": 1, "fillColor": "white", "padding": 3, "labelFont": "Liberation Serif", "labelFontSize": 13, "labelColor": "black", "symbolType": "circle", "symbolSize": 100, "symbolStrokeColor": "black", "symbolStrokeWidth": 1.1, "rowPadding": -2, "labelOffset": 4}
}
}
